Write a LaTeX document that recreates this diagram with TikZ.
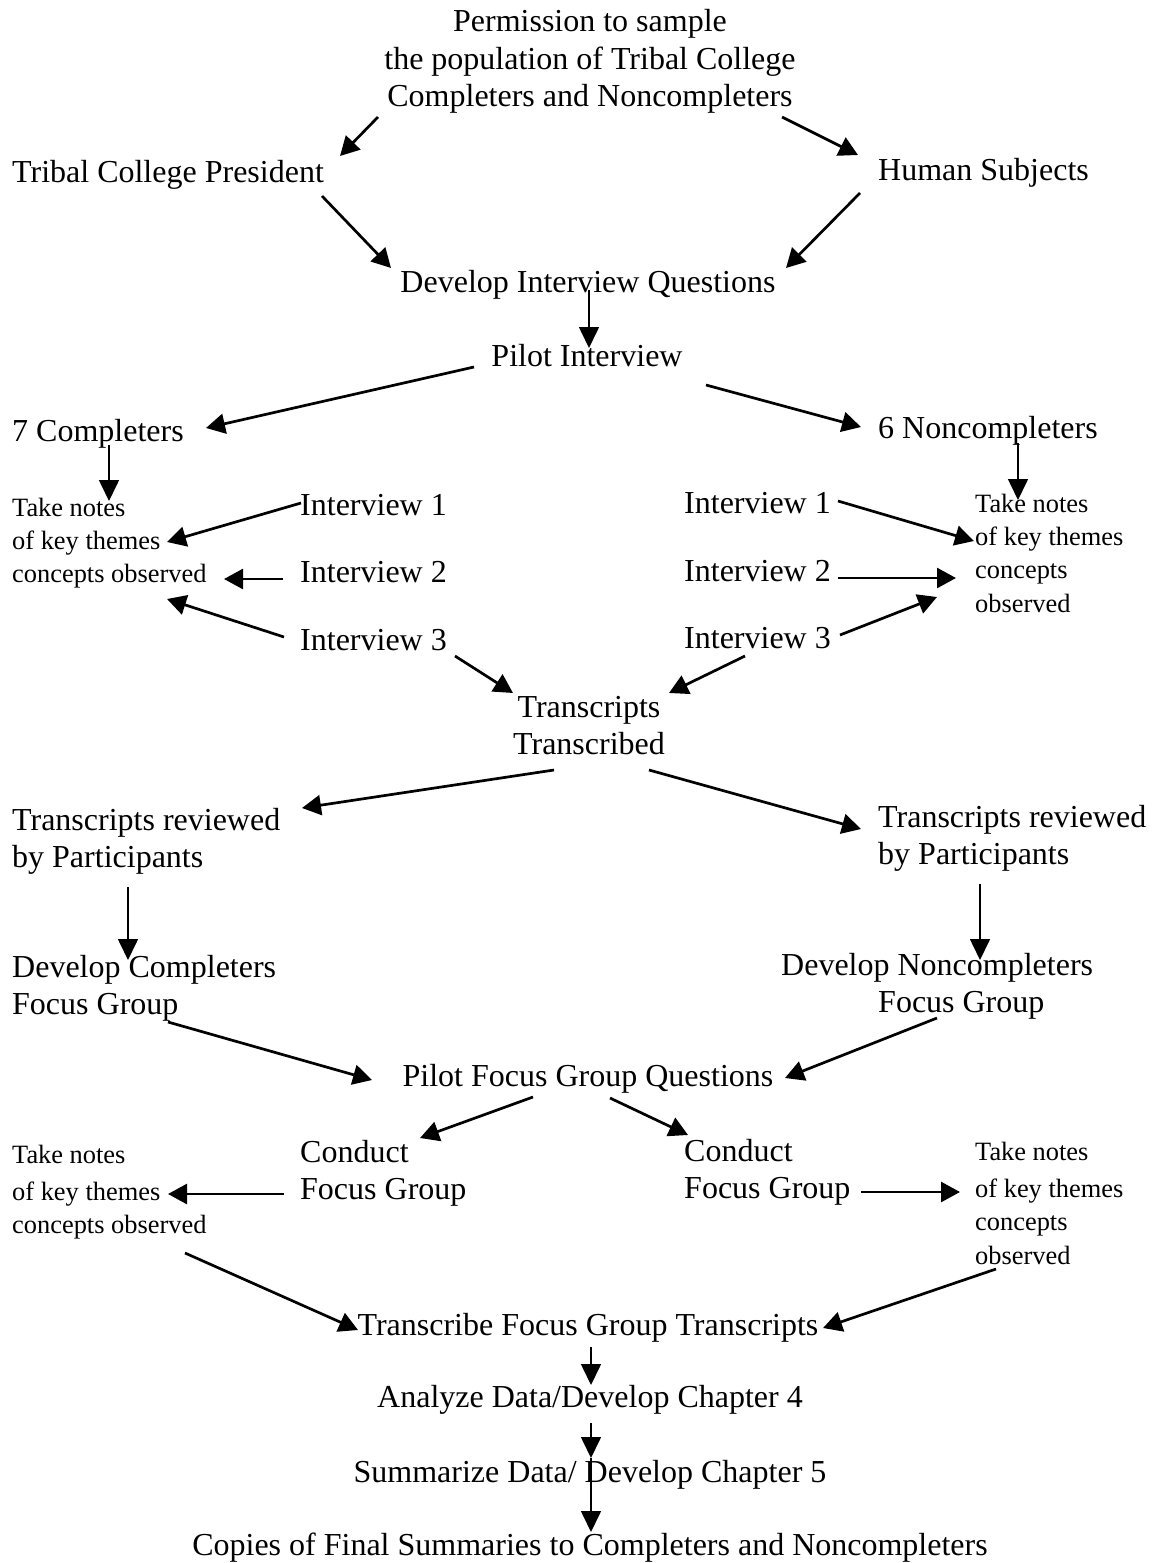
\documentclass[tikz,border=0pt]{standalone}
\usepackage{fontspec}
\setmainfont{Liberation Serif}
\usetikzlibrary{arrows.meta}
\newcommand\mainsz{\fontsize{32}{37.5}\selectfont}
\newcommand\smallsz{\fontsize{26.4}{33.4}\selectfont}
\newcommand\topl[1]{\begin{tabular}[t]{@{}l@{}}#1\end{tabular}}
\newcommand\topc[1]{\begin{tabular}[t]{@{}c@{}}#1\end{tabular}}
\tikzset{
  lbl/.style={inner sep=0pt, font=\mainsz},
  sml/.style={inner sep=0pt, font=\smallsz},
  thk/.style={line width=2.7pt, -{Triangle[length=19pt,width=20pt]}},
  thn/.style={line width=1.6pt, -{Triangle[length=21pt,width=20pt]}},
}
\begin{document}
\begin{tikzpicture}[x=1pt,y=-1pt]
\useasboundingbox[fill=white] (0,0) rectangle (1153,1563);
% nodes
\node[lbl, anchor=base] (perm) at (590,32) {\topc{Permission to sample\\the population of Tribal College\\Completers and Noncompleters}};
\node[lbl, anchor=base west] (pres) at (12,182) {Tribal College President};
\node[lbl, anchor=base west] (hum) at (878,180) {Human Subjects};
\node[lbl, anchor=base] (diq) at (588,292) {Develop Interview Questions};
\node[lbl, anchor=base] (pilot) at (587,366) {Pilot Interview};
\node[lbl, anchor=base west] (c7) at (12,441) {7 Completers};
\node[lbl, anchor=base west] (n6) at (878,438) {6 Noncompleters};
\node[sml, anchor=base west] (notesL) at (12,516) {\topl{Take notes\\of key themes\\concepts observed}};
\node[lbl, anchor=base west] (i1L) at (300,515) {Interview 1};
\node[lbl, anchor=base west] (i2L) at (300,582) {Interview 2};
\node[lbl, anchor=base west] (i3L) at (300,650) {Interview 3};
\node[lbl, anchor=base west] (i1R) at (684,513) {Interview 1};
\node[lbl, anchor=base west] (i2R) at (684,581) {Interview 2};
\node[lbl, anchor=base west] (i3R) at (684,648) {Interview 3};
\node[sml, anchor=base west] (notesR) at (975,512) {\topl{Take notes\\of key themes\\concepts\\observed}};
\node[lbl, anchor=base] (trans) at (589,717) {\topc{Transcripts\\Transcribed}};
\node[lbl, anchor=base west] (revL) at (12,830) {\topl{Transcripts reviewed\\by Participants}};
\node[lbl, anchor=base west] (revR) at (878,827) {\topl{Transcripts reviewed\\by Participants}};
\node[lbl, anchor=base west] (devC) at (12,977) {\topl{Develop Completers\\Focus Group}};
\node[lbl, anchor=base west] (devN) at (781,975) {\topl{Develop Noncompleters\\\hspace*{97pt}Focus Group}};
\node[lbl, anchor=base] (pfq) at (588,1086) {Pilot Focus Group Questions};
\node[lbl, anchor=base west] (condL) at (300,1162) {\topl{Conduct\\Focus Group}};
\node[lbl, anchor=base west] (condR) at (684,1161) {\topl{Conduct\\Focus Group}};
\node[sml, anchor=base west] (notesL2) at (12,1163) {\topl{Take notes\\[4pt]of key themes\\concepts observed}};
\node[sml, anchor=base west] (notesR2) at (975,1160) {\topl{Take notes\\[4pt]of key themes\\concepts\\observed}};
\node[lbl, anchor=base] (tfg) at (588,1335) {Transcribe Focus Group Transcripts};
\node[lbl, anchor=base] (anal) at (590,1407) {Analyze Data/Develop Chapter 4};
\node[lbl, anchor=base] (summ) at (590,1482) {Summarize Data/ Develop Chapter 5};
\node[lbl, anchor=base] (copies) at (590,1555) {Copies of Final Summaries to Completers and Noncompleters};
% connectors
\draw[thk] ([shift={(-212,85)}]perm.base) -- ([shift={(328,-26)}]pres.base west);
\draw[thk] ([shift={(192,85)}]perm.base) -- ([shift={(-20,-25)}]hum.base west);
\draw[thk] ([shift={(310,14)}]pres.base west) -- ([shift={(-197,-24)}]diq.base);
\draw[thk] ([shift={(-18,13)}]hum.base west) -- ([shift={(198,-24)}]diq.base);
\draw[thn] ([shift={(1,-2)}]diq.base) -- ([shift={(2,-18)}]pilot.base);
\draw[thk] ([shift={(-113,1)}]pilot.base) -- ([shift={(194,-13)}]c7.base west);
\draw[thk] ([shift={(119,19)}]pilot.base) -- ([shift={(-17,-11)}]n6.base west);
\draw[thn] ([shift={(97,4)}]c7.base west) -- ([shift={(97,-15)}]notesL.base west);
\draw[thn] ([shift={(140,5)}]n6.base west) -- ([shift={(43,-12)}]notesR.base west);
\draw[thk] ([shift={(1,-12)}]i1L.base west) -- ([shift={(155,26)}]notesL.base west);
\draw[thk] ([shift={(-17,-3)}]i2L.base west) -- ([shift={(212,63)}]notesL.base west);
\draw[thk] ([shift={(-16,-13)}]i3L.base west) -- ([shift={(155,83)}]notesL.base west);
\draw[thk] ([shift={(154,-12)}]i1R.base west) -- ([shift={(-1,29)}]notesR.base west);
\draw[thk] ([shift={(154,-3)}]i2R.base west) -- ([shift={(-19,66)}]notesR.base west);
\draw[thk] ([shift={(156,-13)}]i3R.base west) -- ([shift={(-38,85)}]notesR.base west);
\draw[thk] ([shift={(155,6)}]i3L.base west) -- ([shift={(-76,-24)}]trans.base);
\draw[thk] ([shift={(61,8)}]i3R.base west) -- ([shift={(80,-24)}]trans.base);
\draw[thk] ([shift={(-35,53)}]trans.base) -- ([shift={(290,-22)}]revL.base west);
\draw[thk] ([shift={(60,53)}]trans.base) -- ([shift={(-17,2)}]revR.base west);
\draw[thn] ([shift={(116,57)}]revL.base west) -- ([shift={(116,-17)}]devC.base west);
\draw[thn] ([shift={(102,57)}]revR.base west) -- ([shift={(199,-15)}]devN.base west);
\draw[thk] ([shift={(156,45)}]devC.base west) -- ([shift={(-216,-6)}]pfq.base);
\draw[thk] ([shift={(156,43)}]devN.base west) -- ([shift={(197,-8)}]pfq.base);
\draw[thk] ([shift={(-55,11)}]pfq.base) -- ([shift={(120,-24)}]condL.base west);
\draw[thk] ([shift={(22,12)}]pfq.base) -- ([shift={(4,-26)}]condR.base west);
\draw[thk] ([shift={(-16,32)}]condL.base west) -- ([shift={(156,31)}]notesL2.base west);
\draw[thk] ([shift={(177,31)}]condR.base west) -- ([shift={(-15,32)}]notesR2.base west);
\draw[thk] ([shift={(173,90)}]notesL2.base west) -- ([shift={(-230,-5)}]tfg.base);
\draw[thk] ([shift={(21,109)}]notesR2.base west) -- ([shift={(235,-7)}]tfg.base);
\draw[thn] ([shift={(3,12)}]tfg.base) -- ([shift={(1,-22)}]anal.base);
\draw[thn] ([shift={(1,16)}]anal.base) -- ([shift={(1,-24)}]summ.base);
\draw[thn] ([shift={(1,-24)}]summ.base) -- ([shift={(1,-23)}]copies.base);
\end{tikzpicture}
\end{document}
